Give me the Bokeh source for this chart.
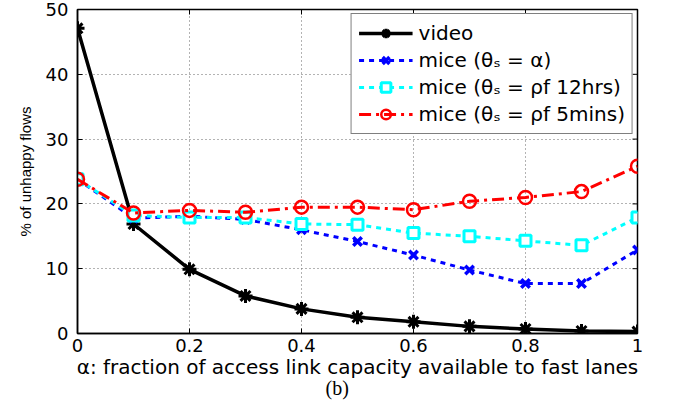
from bokeh.plotting import figure
from bokeh.embed import file_html
from bokeh.resources import INLINE
from bokeh.models import FixedTicker, Title, Legend, LegendItem, Range1d

x_vals = [0.0, 0.1, 0.2, 0.3, 0.4, 0.5, 0.6, 0.7, 0.8, 0.9, 1.0]
video = [47.1, 16.9, 9.9, 5.8, 3.8, 2.5, 1.8, 1.1, 0.7, 0.4, 0.3]
mice_alpha = [23.8, 17.8, 18.1, 17.6, 16.0, 14.2, 12.1, 9.8, 7.7, 7.7, 12.9]
mice_12hrs = [23.8, 18.2, 17.9, 17.9, 16.9, 16.8, 15.5, 15.0, 14.3, 13.6, 17.9]
mice_5mins = [23.8, 18.6, 19.0, 18.7, 19.5, 19.5, 19.1, 20.4, 21.0, 21.9, 25.8]

x_ticks = [0, 0.2, 0.4, 0.6, 0.8, 1.0]
y_ticks = [0, 10, 20, 30, 40, 50]
x_tick_labels = {0: "0", 0.2: "0.2", 0.4: "0.4", 0.6: "0.6", 0.8: "0.8", 1.0: "1"}

FONT = "DejaVu Sans"
X0, X1, Y0, Y1 = 0, 1, 0, 50
FW, FH = 560, 324
TICK = 5

p = figure(output_backend="svg", toolbar_location=None,
           frame_width=FW, frame_height=FH,
           x_range=Range1d(X0, X1), y_range=Range1d(Y0, Y1),
           min_border_left=77, min_border_top=9, min_border_right=30, min_border_bottom=68)
p.background_fill_color = "white"
p.border_fill_color = "white"
p.outline_line_color = "black"
p.outline_line_width = 1.5

for ax in (p.xaxis[0], p.yaxis[0]):
    ax.major_tick_in = TICK
    ax.major_tick_out = 0
    ax.minor_tick_in = 0
    ax.minor_tick_out = 0
    ax.axis_line_width = 1.5
    ax.major_label_text_font = FONT
    ax.major_label_text_font_size = "18px"
    ax.major_label_text_color = "black"
    ax.axis_label_text_font_style = "normal"
    ax.axis_label_text_color = "black"

p.xaxis[0].ticker = FixedTicker(ticks=x_ticks)
p.xaxis[0].major_label_overrides = x_tick_labels
p.yaxis[0].ticker = FixedTicker(ticks=y_ticks)
p.xaxis[0].axis_label = "α: fraction of access link capacity available to fast lanes"
p.xaxis[0].axis_label_text_font = FONT
p.xaxis[0].axis_label_text_font_size = "20px"
p.xaxis[0].axis_label_standoff = 0
p.xaxis[0].major_label_standoff = 5
p.yaxis[0].axis_label = "% of unhappy flows"
p.yaxis[0].axis_label_text_font = "Liberation Sans"
p.yaxis[0].axis_label_text_font_size = "15px"
p.yaxis[0].axis_label_standoff = 9
p.yaxis[0].major_label_standoff = 9

p.xgrid.ticker = FixedTicker(ticks=x_ticks)
p.ygrid.ticker = FixedTicker(ticks=y_ticks)
for g in (p.xgrid[0], p.ygrid[0]):
    g.grid_line_color = "#666666"
    g.grid_line_dash = "1 3"
    g.grid_line_width = 1

# inward ticks on the top and right edges of the box (mirrors of the main ticks)
dy = TICK * (Y1 - Y0) / FH
dx = TICK * (X1 - X0) / FW
p.segment(x0=x_ticks, y0=[Y1] * len(x_ticks), x1=x_ticks, y1=[Y1 - dy] * len(x_ticks),
          line_color="black", line_width=1)
p.segment(x0=[X1] * len(y_ticks), y0=y_ticks, x1=[X1 - dx] * len(y_ticks), y1=y_ticks,
          line_color="black", line_width=1)

# series
l1 = p.line(x_vals, video, line_color="black", line_width=3.5)
m1 = p.scatter(x_vals, video, marker="asterisk", size=14, line_color="black", line_width=3)

l2 = p.line(x_vals, mice_alpha, line_color="blue", line_width=3, line_dash="5 5")
m2 = p.scatter(x_vals, mice_alpha, marker="x", size=12, line_color="blue", line_width=3.5)

l3 = p.line(x_vals, mice_12hrs, line_color="cyan", line_width=3, line_dash="5 5")
m3 = p.scatter(x_vals, mice_12hrs, marker="square", size=11, line_color="cyan",
               fill_color="white", line_width=3)

l4 = p.line(x_vals, mice_5mins, line_color="red", line_width=3, line_dash="12 5 3 5")
m4 = p.scatter(x_vals, mice_5mins, marker="circle", size=13, line_color="red",
               fill_color=None, line_width=2.5)

legend = Legend(items=[
    LegendItem(label="video", renderers=[l1, m1]),
    LegendItem(label="mice (θₛ = α)", renderers=[l2, m2]),
    LegendItem(label="mice (θₛ = ρf 12hrs)", renderers=[l3, m3]),
    LegendItem(label="mice (θₛ = ρf 5mins)", renderers=[l4, m4]),
], location="top_right")
legend.label_text_font = FONT
legend.label_text_font_size = "20px"
legend.label_text_color = "black"
legend.border_line_color = "black"
legend.border_line_width = 1.5
legend.glyph_width = 54
legend.glyph_height = 24
legend.label_height = 24
legend.spacing = 3
legend.padding = 7
legend.margin = 4
legend.label_standoff = 6
legend.background_fill_alpha = 1.0
p.add_layout(legend)

cap = Title(text="(b)", align="left", text_font="Liberation Serif", text_color="black",
            text_font_size="20px", text_font_style="normal", offset=248, standoff=-14)
p.add_layout(cap, "below")

open("out.html", "w").write(file_html(p, INLINE))
